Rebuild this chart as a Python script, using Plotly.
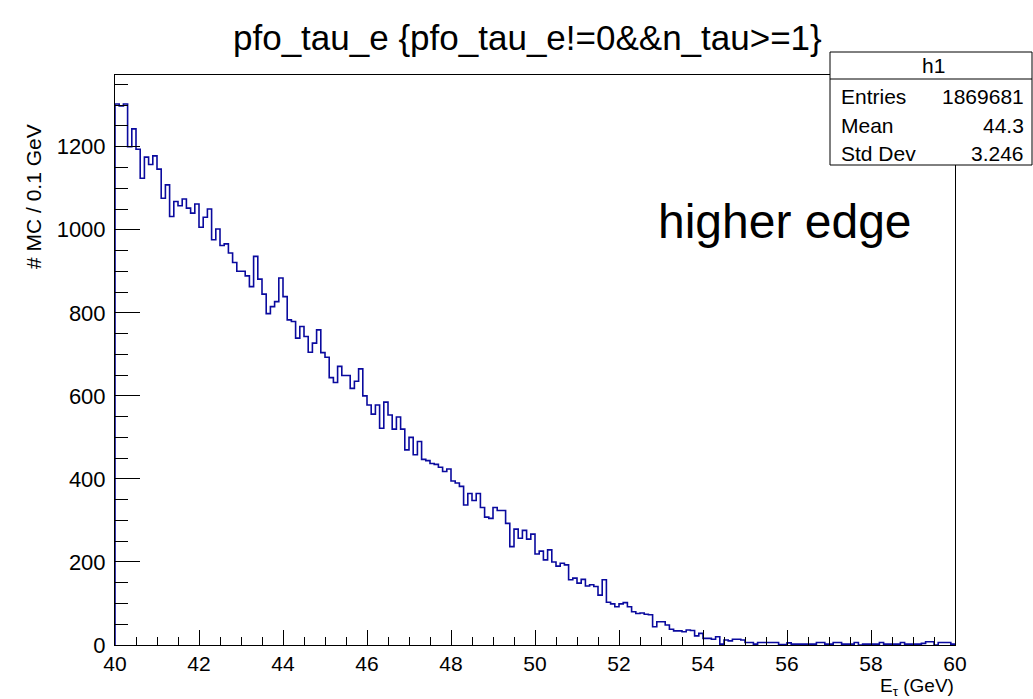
import numpy as np
import plotly.graph_objects as go

# ---------------- data ----------------
bin_low = 40.0
bin_width = 0.1
counts = [
    1303, 1298, 1303, 1200, 1243, 1194, 1124, 1175, 1157, 1178,
    1146, 1076, 1108, 1032, 1068, 1058, 1074, 1052, 1040, 1062,
    1006, 1030, 1050, 976, 1002, 962, 966, 944, 921, 900,
    900, 889, 863, 936, 881, 845, 798, 815, 827, 884,
    839, 783, 779, 739, 767, 743, 705, 727, 759, 704,
    693, 644, 632, 671, 649, 649, 618, 635, 665, 600,
    578, 556, 578, 522, 585, 554, 520, 549, 520, 470,
    500, 458, 490, 447, 444, 437, 435, 428, 418, 424,
    395, 390, 382, 337, 365, 348, 365, 331, 308, 305,
    331, 324, 324, 293, 237, 279, 257, 276, 255, 267,
    219, 226, 205, 229, 200, 190, 197, 193, 157, 161,
    149, 158, 142, 145, 141, 120, 157, 103, 99, 92,
    99, 102, 92, 80, 76, 77, 74, 73, 44, 56,
    56, 48, 38, 34, 34, 32, 36, 35, 22, 28,
    16, 16, 14, 20, 2, 12, 10, 14, 14, 12,
    6, 6, 2, 6, 6, 6, 6, 6, 1, 1,
    5, 2, 2, 2, 2, 2, 2, 6, 6, 2,
    2, 6, 6, 2, 2, 2, 6, 0, 2, 2,
    2, 2, 6, 2, 2, 2, 2, 6, 2, 2,
    2, 2, 4, 8, 8, 0, 6, 6, 6, 2,
]
x_tick_vals = [40, 42, 44, 46, 48, 50, 52, 54, 56, 58, 60]
y_tick_vals = [0, 200, 400, 600, 800, 1000, 1200]
stats_labels = ["Entries", "Mean", "Std Dev"]
stats_values = ["1869681", "44.3", "3.246"]
hist_name = "h1"
title_text = "pfo_tau_e {pfo_tau_e!=0&amp;&amp;n_tau&gt;=1}"
annot_text = "higher edge"
y_title = "# MC / 0.1 GeV"
x_title = "E<sub>τ</sub> (GeV)"

# ---------------- build step outline ----------------
edges = bin_low + bin_width * np.arange(len(counts) + 1)
xs = np.concatenate([[edges[0]], edges[:-1], [edges[-1], edges[-1]]])
ys = np.concatenate([[0], counts, [counts[-1], 0]])

W, H = 1033, 699
L, R, T, B = 115, 78, 75, 54
pw, ph = W - L - R, H - T - B


def px(x):
    return (x - L) / pw


def py(y):
    return (H - B - y) / ph


FONT = "Liberation Sans, Arial, Helvetica, sans-serif"

fig = go.Figure()
fig.add_trace(go.Scatter(
    x=xs, y=ys, mode="lines", line=dict(color="#0a0a9e", width=1.6, shape="hv"),
    hoverinfo="skip", showlegend=False,
))

fig.update_layout(
    width=W, height=H,
    margin=dict(l=L, r=R, t=T, b=B, pad=0),
    paper_bgcolor="white", plot_bgcolor="white",
    font=dict(family=FONT, color="black", size=20),
    showlegend=False,
)
fig.update_xaxes(
    range=[40, 60], tickvals=x_tick_vals, ticks="inside", ticklen=15, tickcolor="black",
    tickwidth=1, showline=True, linecolor="black", linewidth=1, mirror=True,
    showgrid=False, zeroline=False, tickfont=dict(size=21, family=FONT, color="black"),
    minor=dict(ticks="inside", dtick=0.5, ticklen=8, tickcolor="black", showgrid=False),
    ticklabelstandoff=0,
)
fig.update_yaxes(
    range=[0, 1372.7], tickvals=y_tick_vals, ticks="inside", ticklen=25, tickcolor="black",
    tickwidth=1, showline=True, linecolor="black", linewidth=1, mirror=True,
    showgrid=False, zeroline=False, tickfont=dict(size=22, family=FONT, color="black"),
    minor=dict(ticks="inside", dtick=50, ticklen=13, tickcolor="black", showgrid=False),
    ticklabelstandoff=4,
)

annots = []
shapes = []
# title
annots.append(dict(x=px(527), y=py(37), xref="paper", yref="paper", text=title_text,
                   showarrow=False, xanchor="center", yanchor="middle",
                   font=dict(size=35, family=FONT, color="black")))
# higher edge
annots.append(dict(x=px(656), y=py(221), xref="paper", yref="paper", text=annot_text,
                   showarrow=False, xanchor="left", yanchor="middle",
                   font=dict(size=48, family=FONT, color="black")))
# axis titles
annots.append(dict(x=px(33), y=py(197), xref="paper", yref="paper", text=y_title,
                   showarrow=False, xanchor="center", yanchor="middle", textangle=-90,
                   font=dict(size=21, family=FONT, color="black")))
annots.append(dict(x=px(956), y=py(701), xref="paper", yref="paper", text=x_title,
                   showarrow=False, xanchor="right", yanchor="bottom",
                   font=dict(size=19, family=FONT, color="black")))
# stats box
shapes.append(dict(type="rect", xref="paper", yref="paper",
                   x0=px(830), x1=px(1032), y0=py(165), y1=py(52),
                   line=dict(color="black", width=1), fillcolor="white", layer="above"))
shapes.append(dict(type="line", xref="paper", yref="paper",
                   x0=px(830), x1=px(1032), y0=py(79), y1=py(79),
                   line=dict(color="black", width=1), layer="above"))
annots.append(dict(x=px(933), y=py(66), xref="paper", yref="paper", text=hist_name,
                   showarrow=False, xanchor="center", yanchor="middle",
                   font=dict(size=21, family=FONT, color="black")))
row_y = [96, 125, 153]
for lab, val, yy in zip(stats_labels, stats_values, row_y):
    annots.append(dict(x=px(839), y=py(yy), xref="paper", yref="paper", text=lab,
                       showarrow=False, xanchor="left", yanchor="middle",
                       font=dict(size=21, family=FONT, color="black")))
    annots.append(dict(x=px(1026), y=py(yy), xref="paper", yref="paper", text=val,
                       showarrow=False, xanchor="right", yanchor="middle",
                       font=dict(size=21, family=FONT, color="black")))

fig.update_layout(annotations=annots, shapes=shapes)
fig.write_html("out.html", config={"displayModeBar": False})
